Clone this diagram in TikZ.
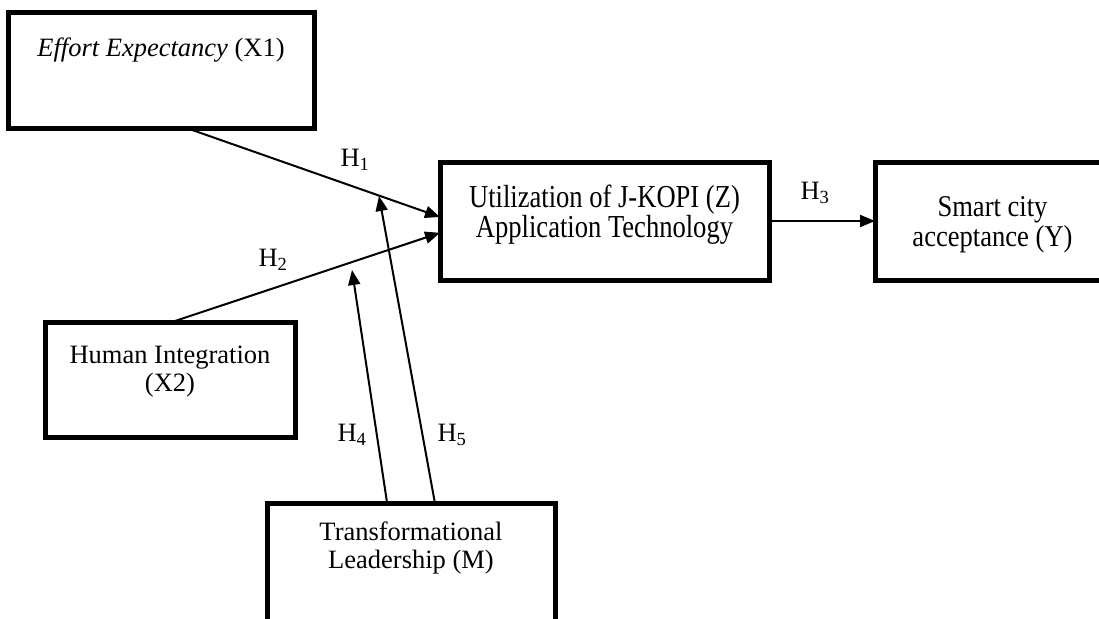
\documentclass[tikz,border=0pt]{standalone}
\usepackage{fontspec}
\setmainfont{Liberation Serif}
\newfontfamily\zboxfont[FakeStretch=0.83]{Liberation Serif}
\newfontfamily\yboxfont[FakeStretch=0.88]{Liberation Serif}
\usetikzlibrary{arrows.meta,calc}
\begin{document}
\begin{tikzpicture}[x=1pt,y=-1pt,
  box/.style={draw=black,line width=5pt,rectangle,inner sep=0pt,outer sep=0pt},
  boxtext/.style={anchor=north,inner sep=0pt,align=center,font=\fontsize{26.5}{28}\selectfont},
  link/.style={line width=2pt,-{Triangle[length=15pt,width=12pt]}},
  hyp/.style={font=\fontsize{26.5}{28}\selectfont,inner sep=0pt}]
\fill[white] (0,0) rectangle (1099,618);
\useasboundingbox (0,0) rectangle (1099,618);
\clip (0,0) rectangle (1099,618);
% boxes
\node[box,minimum width=306pt,minimum height=116pt,
  label={[boxtext,yshift=-25pt]north:{\textit{Effort Expectancy} (X1)}}] (x1) at (161,70.5) {};
\node[box,minimum width=250pt,minimum height=115pt,
  label={[boxtext,yshift=-24pt]north:{Human Integration\\(X2)}}] (x2) at (170,379.5) {};
\node[box,minimum width=329pt,minimum height=118pt,
  label={[boxtext,font=\zboxfont\fontsize{32}{28}\selectfont,yshift=-22.8pt]north:{Utilization of J-KOPI (Z)\\Application Technology}}] (z) at (604.5,221) {};
\node[box,minimum width=235pt,minimum height=118pt,
  label={[boxtext,font=\yboxfont\fontsize{30.2}{30}\selectfont,yshift=-34.4pt]north:{Smart city\\acceptance (Y)}}] (y) at (992.5,221) {};
\node[box,minimum width=288pt,minimum height=147pt,
  label={[boxtext,yshift=-19pt]north:{Transformational\\Leadership (M)}}] (m) at (411,576.5) {};
% free ends of moderating arrows
\coordinate (h4end) at (352,270);
\coordinate (h5end) at (379,196);
% connectors
\draw[link] ($(x1.south west)!0.588!(x1.south east)$) -- ($(z.north west)!0.466!(z.south west)$);
\draw[link] ($(x2.north west)!0.508!(x2.north east)$) -- ($(z.north west)!0.60!(z.south west)$);
\draw[link] (z.east) -- (y.west);
\draw[link] ($(m.north west)!0.417!(m.north east)$) -- (h4end);
\draw[link] ($(m.north west)!0.583!(m.north east)$) -- (h5end);
% hypothesis labels
\node[hyp] (l1) at (355,160) {H\textsubscript{1}};
\node[hyp] (l2) at (273,260) {H\textsubscript{2}};
\node[hyp] (l3) at (815,193) {H\textsubscript{3}};
\node[hyp] (l4) at (352,435) {H\textsubscript{4}};
\node[hyp] (l5) at (452,435) {H\textsubscript{5}};
\end{tikzpicture}
\end{document}
